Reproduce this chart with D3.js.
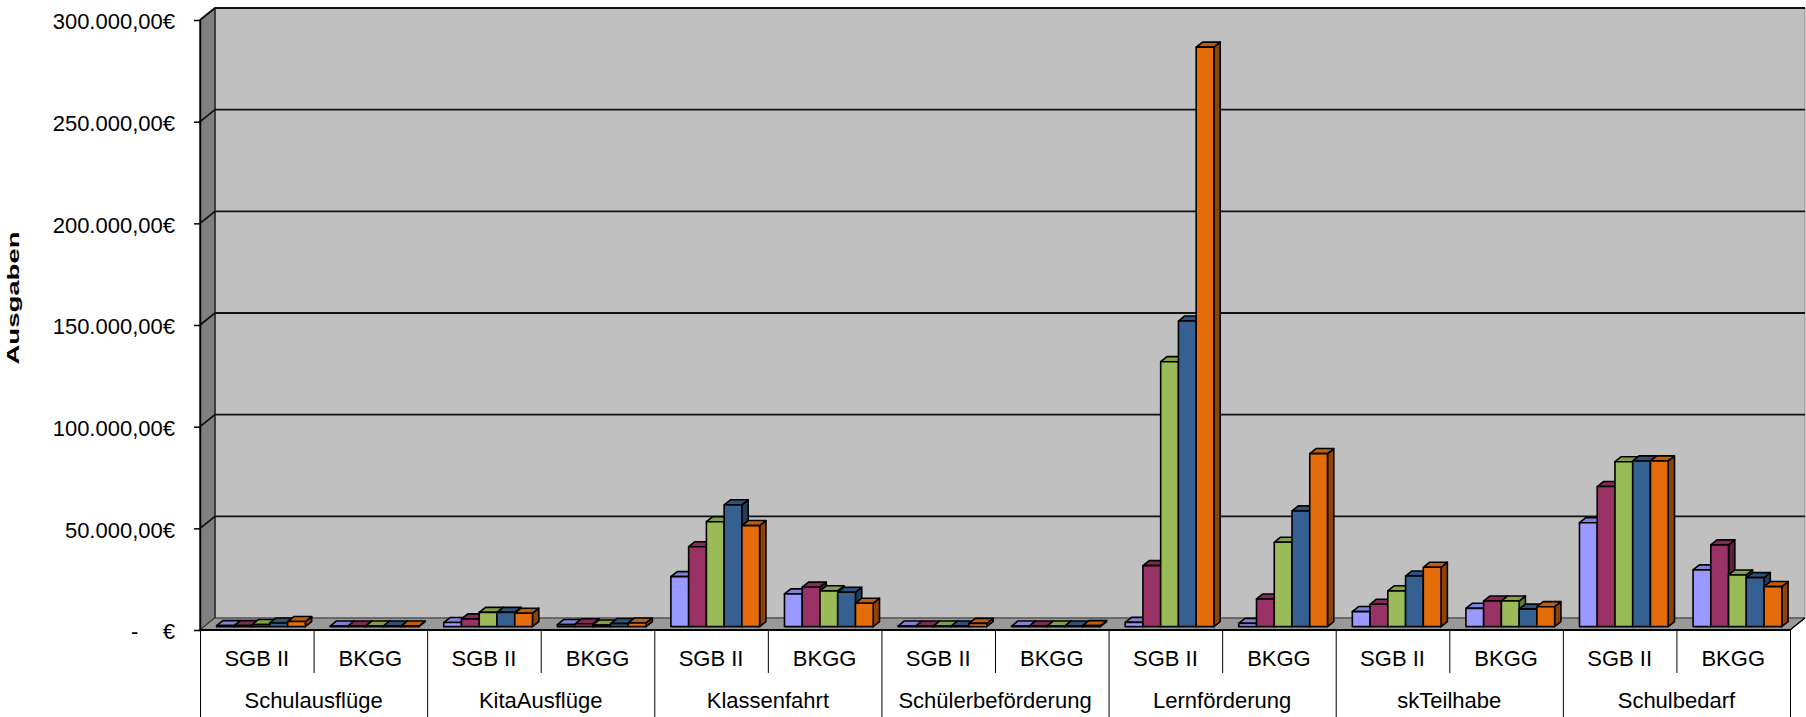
<!DOCTYPE html>
<html>
<head>
<meta charset="utf-8">
<script src="https://cdn.jsdelivr.net/npm/d3@7"></script>
<style>
  html, body { margin: 0; padding: 0; background: #fff; }
  svg { display: block; }
  text { font-family: "Liberation Sans", Arial, sans-serif; fill: #000; }
</style>
</head>
<body>
<svg id="chart" width="1806" height="717"></svg>
<script>
// ---- data ---------------------------------------------------------------
const categories = ["Schulausflüge", "KitaAusflüge", "Klassenfahrt", "Schülerbeförderung",
                    "Lernförderung", "skTeilhabe", "Schulbedarf"];
const subCategories = ["SGB II", "BKGG"];
const seriesColors = ["#9999FF", "#993366", "#9BBB59", "#366092", "#E46C0A"];

// expenses per series, listed category by category as [SGB II, BKGG]
const series1 = [500, 300,  2000, 1000,  24600, 16100,  300, 300,  2100, 1600,    7400, 9000,   51100, 27900];
const series2 = [500, 300,  3800, 1400,  39300, 19400,  300, 300,  30000, 13600,  11000, 12600, 68900, 40200];
const series3 = [1000, 300, 7000, 800,   51600, 17600,  300, 300,  130300, 41500, 17600, 12600, 81100, 25400];
const series4 = [1800, 300, 7000, 1500,  59900, 16900,  300, 300,  150300, 56900, 24900, 8600,  81500, 24100];
const series5 = [2500, 300, 6600, 1800,  49700, 11500,  1600, 500, 285000, 85100, 29200, 9800,  81500, 19700];
const seriesValues = [series1, series2, series3, series4, series5];

const yTicks = [0, 50000, 100000, 150000, 200000, 250000, 300000];
const yLabel = "Ausgaben";

// ---- layout -------------------------------------------------------------
const plotLeft = 200, plotRight = 1790, plotBase = 630, plotTop = 20;
const depthX = 15, depthY = -12;          // projection of the full floor depth
const barFront = 0.28, barBack = 0.70;    // bar slab position within the depth

const svg = d3.select("#chart");

const y = d3.scaleLinear().domain([0, 300000]).range([plotBase, plotTop]);

const slots = d3.range(categories.length * subCategories.length);
const xSlot = d3.scaleBand().domain(slots).range([plotLeft, plotRight]);
const xBar = d3.scaleBand().domain(d3.range(seriesValues.length))
  .range([0, xSlot.bandwidth()]).paddingInner(0).paddingOuter(0.7);
const xGroup = d3.scaleBand().domain(categories).range([plotLeft, plotRight]);

const P = (x, yy, t) => [x + depthX * t, yy + depthY * t];
const poly = pts => "M" + pts.map(p => p.join(",")).join("L") + "Z";

// ---- walls and floor ----------------------------------------------------
const yMax = y.domain()[1];
// back wall
svg.append("path")
  .attr("d", poly([P(plotLeft, y(yMax), 1), P(plotRight, y(yMax), 1), P(plotRight, y(0), 1), P(plotLeft, y(0), 1)]))
  .attr("fill", "#C0C0C0").attr("stroke", "#8a8a8a").attr("stroke-width", 1);
// side wall
svg.append("path")
  .attr("d", poly([[plotLeft, y(yMax)], P(plotLeft, y(yMax), 1), P(plotLeft, y(0), 1), [plotLeft, y(0)]]))
  .attr("fill", "#808080").attr("stroke", "#222").attr("stroke-width", 1.5);
// floor
svg.append("path")
  .attr("d", poly([[plotLeft, y(0)], P(plotLeft, y(0), 1), P(plotRight, y(0), 1), [plotRight, y(0)]]))
  .attr("fill", "#999999").attr("stroke", "#333").attr("stroke-width", 1);

// gridlines on back and side wall
const grid = svg.append("g").attr("stroke", "#111").attr("stroke-width", 1.8).attr("fill", "none");
yTicks.filter(v => v > 0).forEach(v => {
  grid.append("path").attr("d", "M" + P(plotLeft, y(v), 1).join(",") + "L" + P(plotRight, y(v), 1).join(","));
  grid.append("path").attr("d", "M" + [plotLeft, y(v)].join(",") + "L" + P(plotLeft, y(v), 1).join(","));
});

// ---- bars ---------------------------------------------------------------
const bars = svg.append("g").attr("stroke", "#000").attr("stroke-width", 1.6).attr("stroke-linejoin", "round");
slots.forEach(s => {
  seriesValues.forEach((vals, k) => {
    const v = vals[s];
    const x0 = xSlot(s) + xBar(k), x1 = x0 + xBar.bandwidth();
    const yb = y(0), yt = y(v);
    const c = d3.color(seriesColors[k]);
    const g = bars.append("g");
    // right side
    g.append("path")
      .attr("d", poly([P(x1, yt, barFront), P(x1, yt, barBack), P(x1, yb, barBack), P(x1, yb, barFront)]))
      .attr("fill", c.darker(1.3));
    // top
    g.append("path")
      .attr("d", poly([P(x0, yt, barFront), P(x0, yt, barBack), P(x1, yt, barBack), P(x1, yt, barFront)]))
      .attr("fill", c.darker(0.45));
    // front
    g.append("path")
      .attr("d", poly([P(x0, yt, barFront), P(x1, yt, barFront), P(x1, yb, barFront), P(x0, yb, barFront)]))
      .attr("fill", c);
  });
});

// ---- value axis ---------------------------------------------------------
const de = d3.formatLocale({ decimal: ",", thousands: ".", grouping: [3], currency: ["", "€"] });
const euro = de.format("$,.2f");
const yAxis = d3.axisLeft(y).tickValues(yTicks).tickSize(6).tickSizeOuter(0)
  .tickFormat(v => v === 0 ? "-    €" : euro(v));
const ya = svg.append("g").attr("transform", `translate(${plotLeft},0)`).call(yAxis);
ya.attr("font-family", null).attr("font-size", null);
ya.select(".domain").attr("stroke", "#000").attr("stroke-width", 1.5);
ya.selectAll(".tick line").attr("stroke", "#000").attr("stroke-width", 1.5);
ya.selectAll(".tick text")
  .attr("x", -25).attr("dy", "0.4em")
  .style("font-size", "22px").style("white-space", "pre")
  .attr("fill", "#000");

svg.append("text")
  .attr("transform", `translate(19,298) rotate(-90)`)
  .attr("text-anchor", "middle")
  .attr("textLength", 133).attr("lengthAdjust", "spacingAndGlyphs")
  .style("font-size", "17px").style("font-weight", "bold")
  .text(yLabel);

// ---- category axis (two levels) -----------------------------------------
const cat = svg.append("g").attr("stroke", "#000").attr("stroke-width", 1);
cat.append("line").attr("x1", plotLeft).attr("x2", plotRight).attr("y1", plotBase).attr("y2", plotBase)
  .attr("stroke-width", 2.2);
slots.forEach(s => {
  const x = xSlot(s) + 0.5;
  const isGroupEdge = s % subCategories.length === 0;
  cat.append("line").attr("x1", x).attr("x2", x).attr("y1", plotBase).attr("y2", isGroupEdge ? 717 : 673);
});
cat.append("line").attr("x1", plotRight + 0.5).attr("x2", plotRight + 0.5).attr("y1", plotBase).attr("y2", 717);
cat.append("line").attr("x1", plotRight).attr("y1", plotBase).attr("x2", plotRight + depthX).attr("y2", plotBase + depthY)
  .attr("stroke-width", 1.5);

const labels = svg.append("g").style("font-size", "22px").attr("text-anchor", "middle");
slots.forEach(s => {
  labels.append("text")
    .attr("x", xSlot(s) + xSlot.bandwidth() / 2).attr("y", 666)
    .text(subCategories[s % subCategories.length]);
});
categories.forEach(c => {
  labels.append("text")
    .attr("x", xGroup(c) + xGroup.bandwidth() / 2).attr("y", 708)
    .text(c);
});
</script>
</body>
</html>
